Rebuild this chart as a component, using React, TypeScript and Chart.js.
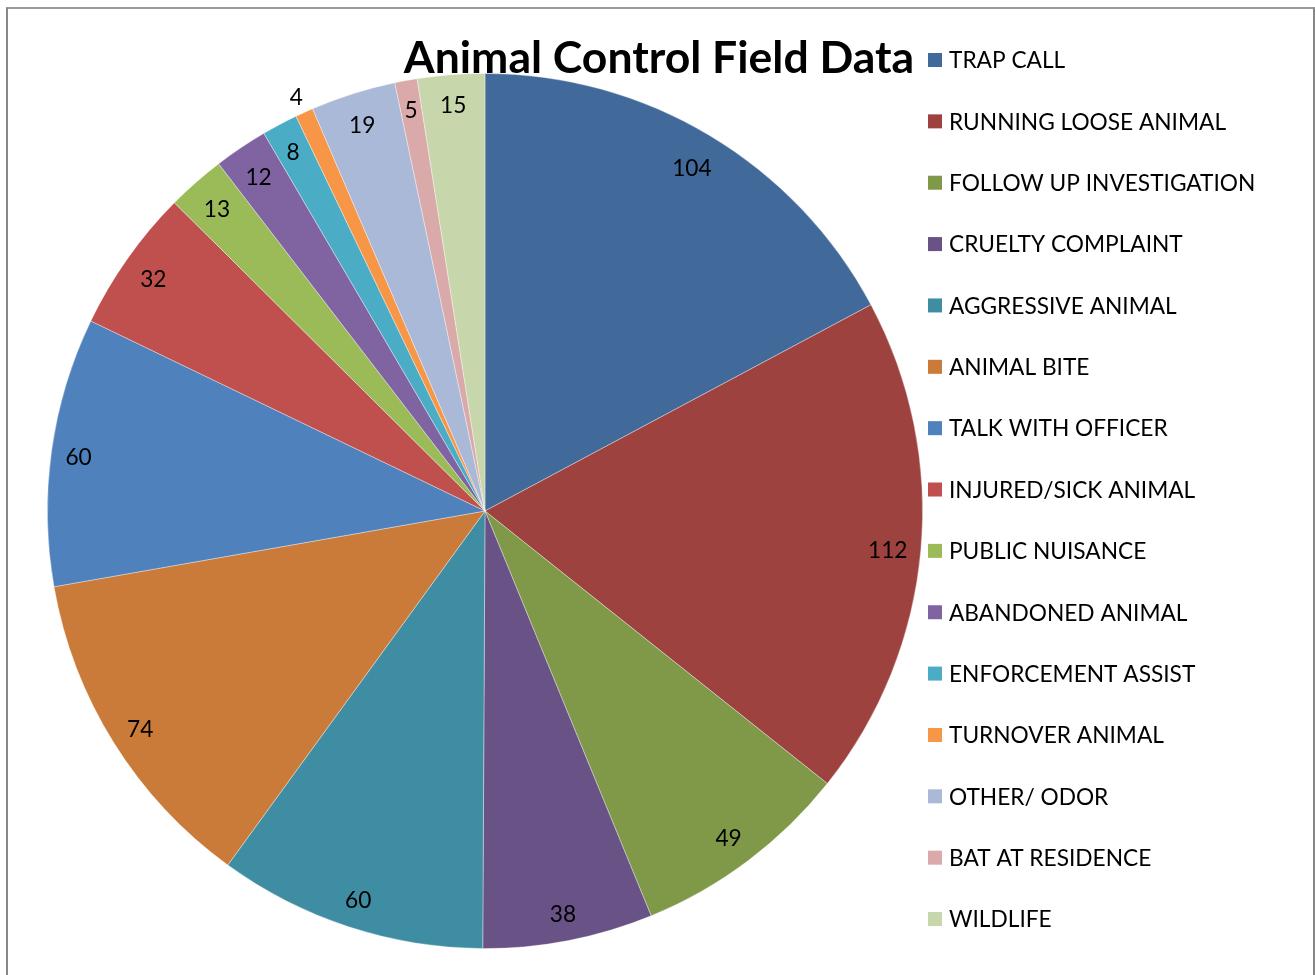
import React, { useEffect, useRef } from "react";
import { Chart, registerables } from "chart.js";

Chart.register(...registerables);

const chartTitle = "Animal Control Field Data";

const categories = [
  "TRAP CALL",
  "RUNNING LOOSE ANIMAL",
  "FOLLOW UP INVESTIGATION",
  "CRUELTY COMPLAINT",
  "AGGRESSIVE ANIMAL",
  "ANIMAL BITE",
  "TALK WITH OFFICER",
  "INJURED/SICK ANIMAL",
  "PUBLIC NUISANCE",
  "ABANDONED ANIMAL",
  "ENFORCEMENT ASSIST",
  "TURNOVER ANIMAL",
  "OTHER/ ODOR",
  "BAT AT RESIDENCE",
  "WILDLIFE",
];

const counts = [104, 112, 49, 38, 60, 74, 60, 32, 13, 12, 8, 4, 19, 5, 15];

const sliceColors = [
  "#416A9B",
  "#9D423F",
  "#7F9949",
  "#695285",
  "#3E8DA2",
  "#CB7B39",
  "#4F81BD",
  "#C0504D",
  "#9BBB59",
  "#8064A2",
  "#4BACC6",
  "#F79646",
  "#AAB9D7",
  "#D9AAA9",
  "#C7D7AB",
];

const FONT = "Lato, 'Open Sans', sans-serif";

const decorPlugin = {
  id: "excelDecor",
  afterDatasetsDraw(chart: any) {
    const ctx = chart.ctx as CanvasRenderingContext2D;
    const meta = chart.getDatasetMeta(0);
    const values = chart.data.datasets[0].data as number[];
    const colors = chart.data.datasets[0].backgroundColor as string[];
    const labels = chart.data.labels as string[];

    ctx.save();
    // data labels (best-fit inside end, like the spreadsheet)
    ctx.font = `22.7px ${FONT}`;
    ctx.fillStyle = "#000";
    ctx.textAlign = "center";
    ctx.textBaseline = "middle";
    meta.data.forEach((arc: any, i: number) => {
      const p = arc.getProps(["x", "y", "startAngle", "endAngle", "outerRadius"], true);
      const mid = (p.startAngle + p.endAngle) / 2;
      const txt = String(values[i]);
      const w = ctx.measureText(txt).width;
      const hh = 15;
      const a = Math.abs(Math.cos(mid));
      const b = Math.abs(Math.sin(mid));
      const T = p.outerRadius - 12;
      const B = (a * w) / 2 + b * hh;
      const C = (w * w) / 4 + hh * hh - T * T;
      let d = -B + Math.sqrt(B * B - C);
      const arcLen = (p.endAngle - p.startAngle) * d;
      if (arcLen < 19) d = p.outerRadius + 19;
      ctx.fillText(txt, p.x + Math.cos(mid) * d, p.y + Math.sin(mid) * d + 3);
    });

    // title
    ctx.font = `bold 44.5px ${FONT}`;
    ctx.textAlign = "center";
    ctx.textBaseline = "middle";
    ctx.fillText(chartTitle, 659, 59);

    // legend
    const boxX = 928;
    const boxSize = 14;
    const textX = 949;
    const firstY = 60;
    const step = 61.36;
    ctx.font = `22.7px ${FONT}`;
    ctx.textAlign = "left";
    ctx.textBaseline = "middle";
    labels.forEach((lab, i) => {
      const cy = firstY + i * step;
      ctx.fillStyle = colors[i];
      ctx.fillRect(boxX, cy - boxSize / 2, boxSize, boxSize);
      ctx.fillStyle = "#000";
      ctx.fillText(lab, textX, cy + 1);
    });
    ctx.restore();
  },
};

export default function App() {
  const canvasRef = useRef<HTMLCanvasElement | null>(null);

  useEffect(() => {
    if (!canvasRef.current) return;
    const chart = new Chart(canvasRef.current, {
      type: "pie",
      data: {
        labels: categories,
        datasets: [
          {
            data: counts,
            backgroundColor: sliceColors,
            borderColor: "rgba(255,255,255,0.45)",
            borderWidth: 0.8,
          },
        ],
      },
      options: {
        responsive: true,
        maintainAspectRatio: false,
        animation: false,
        layout: { padding: { top: 73, left: 47, right: 392, bottom: 26 } },
        plugins: {
          legend: { display: false },
          title: { display: false },
          tooltip: { enabled: false },
        },
      },
      plugins: [decorPlugin],
    });
    return () => chart.destroy();
  }, []);

  return (
    <div
      style={{
        position: "absolute",
        left: 0,
        top: 0,
        width: 1315,
        height: 975,
        background: "#fff",
        overflow: "hidden",
      }}
    >
      <div
        style={{
          position: "absolute",
          left: 6,
          top: 7,
          width: 1305,
          height: 1000,
          borderLeft: "2px solid #878787",
          borderRight: "2px solid #878787",
          borderTop: "2px solid #9a9a9a",
        }}
      />
      <div style={{ position: "absolute", left: 0, top: 0, width: 1315, height: 975 }}>
        <canvas ref={canvasRef} />
      </div>
    </div>
  );
}
